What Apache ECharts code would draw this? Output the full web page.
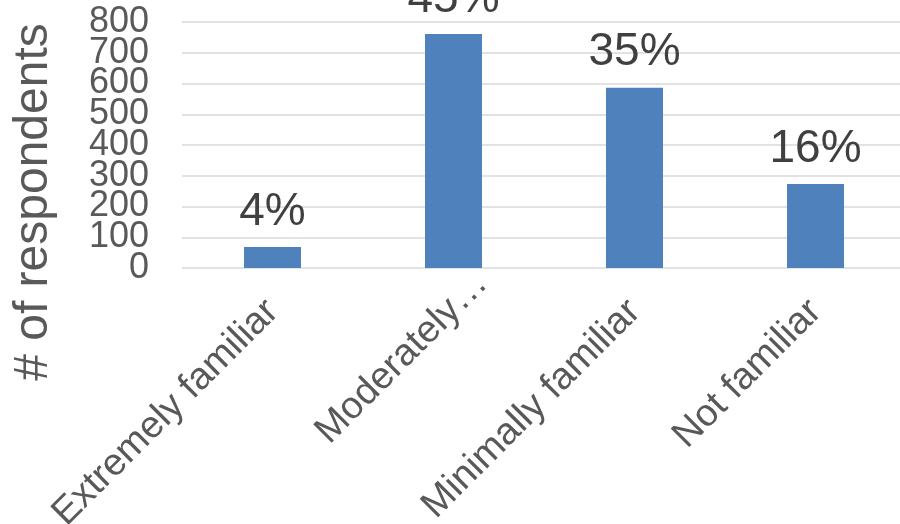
<!DOCTYPE html>
<html>
<head>
<meta charset="utf-8">
<script src="https://cdn.jsdelivr.net/npm/echarts@6/dist/echarts.min.js"></script>
<style>
html,body{margin:0;padding:0;background:#fff;}
#chart{width:900px;height:524px;}
</style>
</head>
<body>
<div id="chart"></div>
<script>
const categories = ['Extremely familiar', 'Moderately…', 'Minimally familiar', 'Not familiar'];
const respondents = [68, 761, 586, 273];
const percentLabels = ['4%', '45%', '35%', '16%'];
const yTicks = [0, 100, 200, 300, 400, 500, 600, 700, 800];
const yAxisTitle = '# of respondents';

const FONT = '"Liberation Sans", Arial, sans-serif';
const yLabelStyle = {
  margin: 33,
  hideOverlap: false,
  color: '#595959',
  fontFamily: FONT,
  fontSize: 36
};
const yMin = yTicks[0];
const yMax = yTicks[yTicks.length - 1];

const chart = echarts.init(document.getElementById('chart'), null, {renderer: 'canvas'});
chart.setOption({
  animation: false,
  backgroundColor: '#ffffff',
  grid: {left: 182, right: -6, top: 22, bottom: 256, containLabel: false, outerBoundsMode: 'none'},
  xAxis: {
    type: 'category',
    data: categories.map((c, i) => i === 1
      ? {value: c, textStyle: {padding: [0, -40, 0, 0]}}
      : c),
    axisLine: {show: false},
    axisTick: {show: false},
    axisLabel: {
      interval: 0,
      rotate: 45,
      margin: 38,
      hideOverlap: false,
      color: '#595959',
      fontFamily: FONT,
      fontSize: 38
    }
  },
  yAxis: [{
    type: 'value',
    min: yMin,
    max: yMax,
    interval: yTicks[1] - yTicks[0],
    axisLine: {show: false},
    axisTick: {show: false},
    axisLabel: Object.assign({showMinLabel: false, showMaxLabel: false}, yLabelStyle),
    splitLine: {lineStyle: {color: '#D9D9D9', width: 1.5}}
  }, {
    type: 'value',
    position: 'left',
    min: yMin,
    max: yMax,
    interval: yMax - yMin,
    axisLine: {show: false},
    axisTick: {show: false},
    axisLabel: Object.assign({showMinLabel: true, showMaxLabel: true}, yLabelStyle),
    splitLine: {show: false}
  }],
  graphic: [{
    type: 'text',
    x: 34,
    y: 202,
    rotation: Math.PI / 2,
    style: {
      text: yAxisTitle,
      fill: '#595959',
      font: '48px ' + FONT,
      align: 'center',
      verticalAlign: 'middle'
    }
  }],
  series: [{
    type: 'bar',
    yAxisIndex: 0,
    data: respondents,
    barWidth: '31.5%',
    itemStyle: {color: '#4F81BD'},
    label: {
      show: true,
      position: 'top',
      distance: 12,
      color: '#404040',
      fontFamily: FONT,
      fontSize: 46,
      formatter: p => percentLabels[p.dataIndex]
    }
  }]
});
</script>
</body>
</html>
